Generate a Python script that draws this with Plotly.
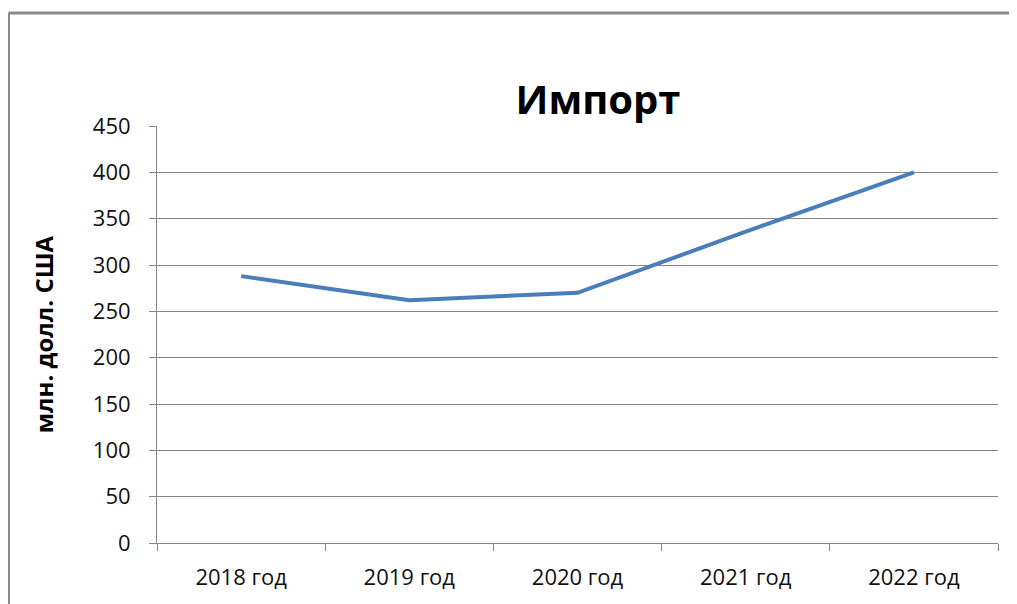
import plotly.graph_objects as go

categories = ["2018 год", "2019 год", "2020 год", "2021 год", "2022 год"]
values = [288, 262, 270, 336, 400]
y_ticks = [0, 50, 100, 150, 200, 250, 300, 350, 400, 450]

# page body has an 8px margin, so figure coordinates are offset by 8px
OFF = 8
W, H = 1017, 604
L, R, T, B = 157 - OFF, W - 998 + OFF, 126 - OFF, H - 543 + OFF
pw, ph = W - L - R, H - T - B

def px_x(x):
    return (x - OFF - L) / pw

def px_y(y):
    return (H - B - (y - OFF)) / ph

fig = go.Figure()
fig.add_trace(go.Scatter(
    x=categories, y=values, mode="lines",
    line=dict(color="#4A7EBB", width=4),
    showlegend=False, hoverinfo="x+y",
))

grid = "#878787"
fig.update_layout(
    width=W, height=H,
    margin=dict(l=L, r=R, t=T, b=B),
    paper_bgcolor="white", plot_bgcolor="white",
    font=dict(family="Open Sans, Liberation Sans, sans-serif", color="#111111", size=22),
    title=dict(text="<b>Импорт</b>", x=px_x(598), xref="paper", xanchor="center",
               y=1 - (100 - OFF) / H, yanchor="middle", font=dict(size=40, color="#000000")),
    xaxis=dict(
        type="category", tickson="boundaries", ticks="outside", ticklen=7,
        tickcolor=grid, showline=True, linecolor=grid, linewidth=1,
        showgrid=False, range=[-0.5, 4.5], tickfont=dict(size=22),
        ticklabelstandoff=15,
    ),
    yaxis=dict(
        range=[0, 450], tickvals=y_ticks, ticks="outside", ticklen=7,
        tickcolor=grid, showline=True, linecolor=grid, linewidth=1,
        showgrid=True, gridcolor=grid, gridwidth=1, zeroline=False,
        tickfont=dict(size=22), ticklabelstandoff=14,
        title=dict(text="<b>млн. долл. США</b>", font=dict(size=24, color="#000000"), standoff=32),
    ),
    shapes=[
        dict(type="line", xref="paper", yref="paper",
             x0=px_x(8.5), y0=px_y(13), x1=px_x(W + 20), y1=px_y(13),
             line=dict(color="#8a8a8a", width=3)),
        dict(type="line", xref="paper", yref="paper",
             x0=px_x(8.5), y0=px_y(13), x1=px_x(8.5), y1=px_y(H + 20),
             line=dict(color="#8a8a8a", width=3)),
    ],
)

fig.write_html("out.html")
